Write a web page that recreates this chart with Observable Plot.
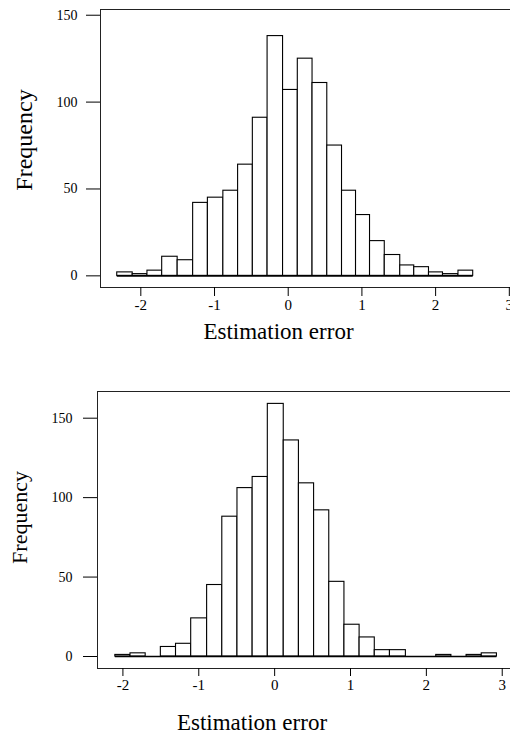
<!DOCTYPE html>
<html>
<head>
<meta charset="utf-8">
<script src="https://cdn.jsdelivr.net/npm/d3@7"></script>
<script src="https://cdn.jsdelivr.net/npm/@observablehq/plot@0.6"></script>
<style>
  html, body { margin: 0; padding: 0; background: #fff; }
  #chart svg { display: block; }
</style>
</head>
<body>
<div id="chart"></div>
<script>
// Top histogram
const edgesTop = [-2.32,-2.11,-1.91,-1.71,-1.50,-1.29,-1.09,-0.88,-0.68,-0.48,-0.28,-0.07,0.13,0.33,0.53,0.73,0.92,1.11,1.31,1.52,1.71,1.91,2.10,2.31,2.51];
const countsTop = [2,1,3,11,9,42,45,49,64,91,138,107,125,111,75,49,35,20,12,6,5,2,1,3];
// Bottom histogram
const edgesBottom = [-2.10,-1.90,-1.70,-1.50,-1.30,-1.10,-0.89,-0.69,-0.49,-0.29,-0.09,0.12,0.32,0.52,0.72,0.92,1.12,1.32,1.52,1.73,1.93,2.13,2.33,2.53,2.73,2.93];
const countsBottom = [1,2,0,6,8,24,45,88,106,113,159,136,109,92,47,20,12,4,4,0,0,1,0,1,2];

const xTicks = [-2,-1,0,1,2,3];
const yTicks = [0,50,100,150];
const xLabel = "Estimation error";
const yLabel = "Frequency";

const FONT = "'Liberation Serif', 'Times New Roman', serif";

function hist(edges, counts, cfg) {
  const bins = counts.map((c, i) => ({x1: edges[i], x2: edges[i + 1], y: c}));
  return Plot.plot({
    width: 510,
    height: cfg.height,
    marginLeft: cfg.ml,
    marginRight: 0,
    marginTop: cfg.mt,
    marginBottom: cfg.mb,
    style: {fontFamily: FONT, background: "white", color: "black"},
    x: {domain: cfg.xDomain, ticks: xTicks},
    y: {domain: cfg.yDomain, ticks: yTicks},
    marks: [
      Plot.frame({anchor: "top", stroke: "#222", strokeWidth: 1}),
      Plot.frame({anchor: "left", stroke: "#222", strokeWidth: 1}),
      Plot.frame({anchor: "bottom", stroke: "#222", strokeWidth: 1}),
      Plot.rectY(bins, {x1: "x1", x2: "x2", y1: 0, y2: "y", fill: "white", stroke: "black", strokeWidth: 1.1, inset: 0}),
      Plot.ruleY([0], {x1: edges[0], x2: edges[edges.length - 1], stroke: "black", strokeWidth: 1.6}),
      Plot.axisX({ticks: xTicks, tickSize: cfg.xTickSize, tickPadding: 3, fontSize: 15, label: null, tickFormat: d => d < 0 ? "-" + Math.abs(d) : String(d), stroke: "black"}),
      Plot.axisY({ticks: yTicks, tickSize: 14, tickPadding: cfg.yPad, fontSize: 14, label: null, stroke: "black"}),
      Plot.text([xLabel], {frameAnchor: "bottom", text: d => d, textAnchor: "middle", lineAnchor: "middle", dx: cfg.xlDx, dy: cfg.xlDy, fontSize: 23, fill: "black"}),
      Plot.text([yLabel], {frameAnchor: "left", text: d => d, textAnchor: "middle", lineAnchor: "middle", rotate: -90, dx: cfg.ylDx, dy: cfg.ylDy, fontSize: cfg.ylSize, fill: "black"})
    ]
  });
}

const topChart = hist(edgesTop, countsTop, {
  height: 367, ml: 100, mt: 9, mb: 80,
  xDomain: [-2.547, 3.016], yDomain: [-6.7, 153.3],
  xTickSize: 9, yPad: 9,
  xlDx: -27, xlDy: 44, ylDx: -76, ylDy: -8.5, ylSize: 24
});
const bottomChart = hist(edgesBottom, countsBottom, {
  height: 368, ml: 97, mt: 24, mb: 67,
  xDomain: [-2.335, 3.109], yDomain: [-7.55, 166.8],
  xTickSize: 8, yPad: 11,
  xlDx: -52, xlDy: 54, ylDx: -78, ylDy: -12.5, ylSize: 22
});
document.getElementById("chart").append(topChart, bottomChart);
</script>
</body>
</html>
